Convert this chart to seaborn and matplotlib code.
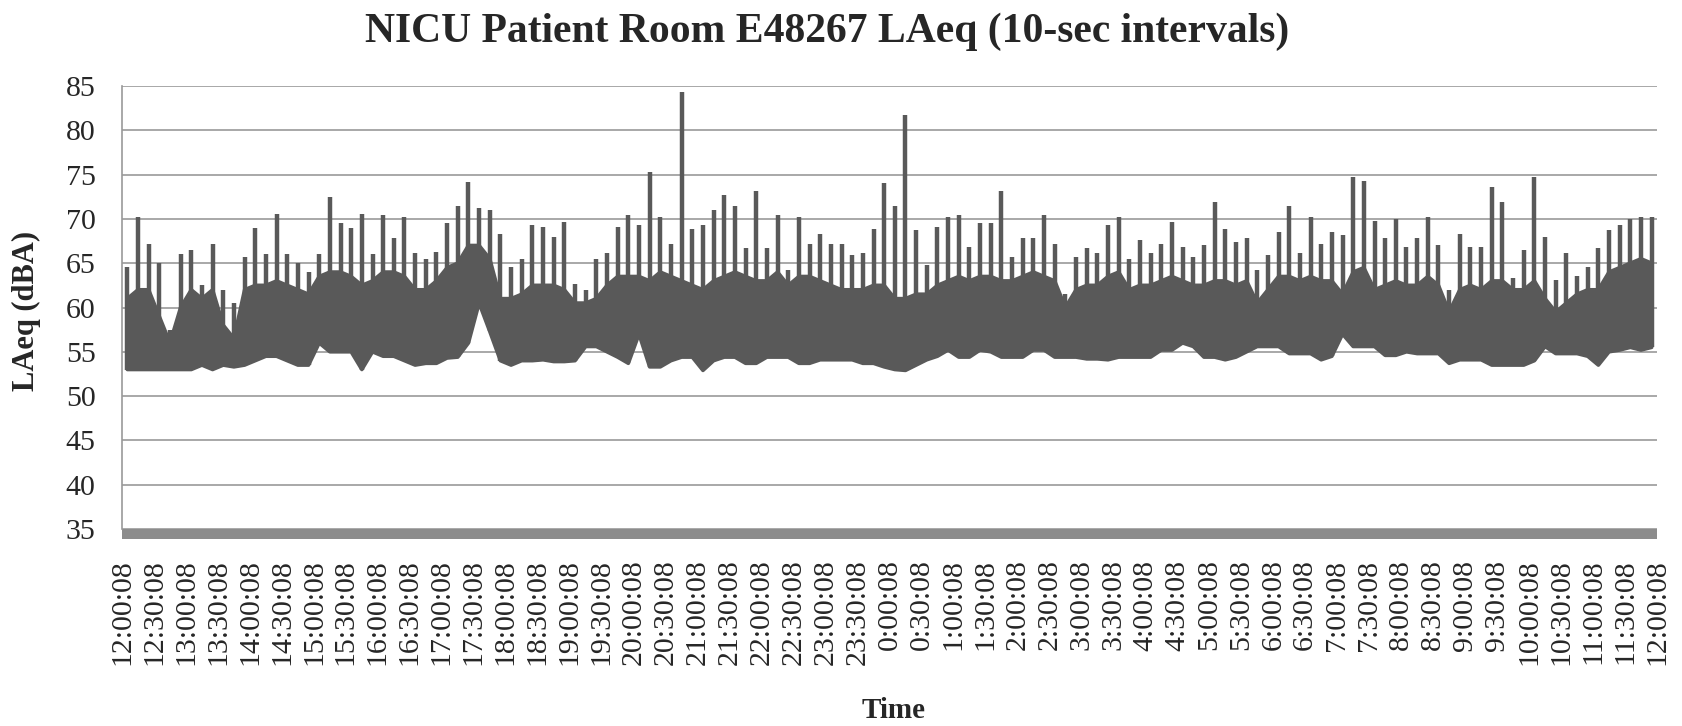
import numpy as np
import pandas as pd
import seaborn as sns
import matplotlib
matplotlib.use("Agg")
import matplotlib.pyplot as plt
from matplotlib.patches import Rectangle

# LAeq, per 10-minute bin (12:00 -> 12:00 next day)
# bin_low: floor of the trace, bin_top: top of the solid band, bin_high: tallest spike
bin_low = [
    53.0, 53.0, 53.0, 53.0, 53.0, 53.0, 53.0, 53.5, 53.0, 53.5, 53.3, 53.5,
    54.0, 54.5, 54.5, 54.0, 53.5, 53.5, 56.0, 55.0, 55.0, 55.0, 53.0, 55.0,
    54.5, 54.5, 54.0, 53.5, 53.7, 53.7, 54.3, 54.4, 56.0, 60.5, 57.3, 54.0,
    53.5, 54.0, 54.0, 54.1, 53.9, 53.9, 54.0, 55.6, 55.6, 55.0, 54.4, 53.7,
    57.0, 53.3, 53.3, 54.0, 54.4, 54.4, 52.9, 54.0, 54.4, 54.4, 53.7, 53.7,
    54.4, 54.4, 54.4, 53.7, 53.7, 54.1, 54.1, 54.1, 54.1, 53.7, 53.7, 53.3,
    53.0, 52.9, 53.5, 54.1, 54.5, 55.2, 54.4, 54.4, 55.2, 55.0, 54.4, 54.4,
    54.4, 55.2, 55.2, 54.4, 54.4, 54.4, 54.2, 54.2, 54.1, 54.4, 54.4, 54.4,
    54.4, 55.2, 55.2, 56.0, 55.6, 54.4, 54.4, 54.1, 54.4, 55.0, 55.6, 55.6,
    55.6, 54.8, 54.8, 54.8, 54.1, 54.5, 57.0, 55.6, 55.6, 55.6, 54.6, 54.6,
    55.0, 54.8, 54.8, 54.8, 53.7, 54.1, 54.1, 54.1, 53.5, 53.5, 53.5, 53.5,
    54.0, 55.6, 54.8, 54.8, 54.8, 54.5, 53.5, 55.0, 55.2, 55.5, 55.2, 55.5,
]
bin_top = [
    61.0, 62.0, 62.0, 59.0, 56.0, 60.0, 62.0, 61.0, 62.0, 58.0, 56.5, 62.0,
    62.5, 62.5, 63.0, 62.5, 62.0, 61.5, 63.5, 64.0, 64.0, 63.5, 62.5, 63.0,
    64.0, 64.0, 63.5, 62.0, 62.0, 63.0, 64.5, 65.0, 67.0, 67.0, 65.5, 61.0,
    61.0, 61.5, 62.5, 62.5, 62.5, 62.0, 60.5, 60.5, 61.0, 62.5, 63.5, 63.5,
    63.5, 63.0, 64.0, 63.5, 63.0, 62.5, 62.0, 63.0, 63.5, 64.0, 63.5, 63.0,
    63.0, 64.0, 62.5, 63.5, 63.5, 63.0, 62.5, 62.0, 62.0, 62.0, 62.5, 62.5,
    61.0, 61.0, 61.5, 61.5, 62.5, 63.0, 63.5, 63.0, 63.5, 63.5, 63.0, 63.0,
    63.5, 64.0, 63.5, 63.0, 60.0, 62.0, 62.5, 62.5, 63.5, 64.0, 62.0, 62.5,
    62.5, 63.0, 63.5, 63.0, 62.5, 62.5, 63.0, 63.0, 62.5, 63.0, 60.5, 62.0,
    63.5, 63.5, 63.0, 63.5, 63.0, 63.0, 61.5, 64.0, 64.5, 62.0, 62.5, 63.0,
    62.5, 62.5, 63.5, 62.5, 59.5, 62.0, 62.5, 62.0, 63.0, 63.0, 62.0, 62.0,
    63.0, 61.0, 59.5, 60.5, 61.5, 62.0, 62.0, 64.0, 64.5, 65.0, 65.5, 65.0,
]
bin_high = [
    64.6, 70.2, 67.2, 65.0, 57.5, 66.0, 66.5, 62.5, 67.2, 62.0, 60.5, 65.7,
    69.0, 66.0, 70.5, 66.0, 65.0, 64.0, 66.0, 72.5, 69.5, 69.0, 70.6, 66.0,
    70.4, 67.8, 70.2, 66.1, 65.5, 66.3, 69.5, 71.5, 74.2, 71.2, 71.0, 68.3,
    64.6, 65.5, 69.3, 69.1, 68.0, 69.7, 62.7, 62.0, 65.5, 66.1, 69.1, 70.4,
    69.3, 75.3, 70.2, 67.2, 84.3, 68.9, 69.3, 71.0, 72.7, 71.4, 66.7, 73.1,
    66.7, 70.4, 64.2, 70.2, 67.2, 68.3, 67.2, 67.2, 65.9, 66.1, 68.9, 74.0,
    71.4, 81.7, 68.7, 64.8, 69.1, 70.2, 70.4, 66.8, 69.5, 69.5, 73.1, 65.7,
    67.8, 67.8, 70.4, 67.2, 61.5, 65.7, 66.7, 66.1, 69.3, 70.2, 65.5, 67.6,
    66.1, 67.2, 69.7, 66.8, 65.7, 67.0, 71.9, 68.9, 67.4, 67.8, 64.2, 65.9,
    68.5, 71.4, 66.1, 70.2, 67.2, 68.5, 68.2, 74.7, 74.3, 69.8, 67.8, 70.0,
    66.8, 67.8, 70.2, 67.0, 62.0, 68.3, 66.8, 66.8, 73.6, 71.9, 63.3, 66.5,
    74.7, 68.0, 63.1, 66.1, 63.5, 64.6, 66.7, 68.7, 69.3, 70.0, 70.2, 70.2,
]

tick_labels = [
    "12:00:08", "12:30:08", "13:00:08", "13:30:08", "14:00:08", "14:30:08",
    "15:00:08", "15:30:08", "16:00:08", "16:30:08", "17:00:08", "17:30:08",
    "18:00:08", "18:30:08", "19:00:08", "19:30:08", "20:00:08", "20:30:08",
    "21:00:08", "21:30:08", "22:00:08", "22:30:08", "23:00:08", "23:30:08",
    "0:00:08", "0:30:08", "1:00:08", "1:30:08", "2:00:08", "2:30:08",
    "3:00:08", "3:30:08", "4:00:08", "4:30:08", "5:00:08", "5:30:08",
    "6:00:08", "6:30:08", "7:00:08", "7:30:08", "8:00:08", "8:30:08",
    "9:00:08", "9:30:08", "10:00:08", "10:30:08", "11:00:08", "11:30:08",
    "12:00:08",
]

TRACE = "#595959"

# hours since 12:00:08, bin centres
hours = (np.arange(len(bin_low)) * 10 + 5) / 60
df = pd.DataFrame({"hours": hours, "low": bin_low, "top": bin_top, "high": bin_high})

sns.set_style("white")
plt.rcParams["font.family"] = ["Liberation Serif", "DejaVu Serif"]

fig, ax = plt.subplots(figsize=(16.82, 7.26), dpi=100)
fig.subplots_adjust(left=122 / 1682, right=1657 / 1682, top=1 - 86 / 726, bottom=1 - 529 / 726)

# solid body of the trace and its outline
ax.fill_between(df["hours"], df["low"], df["top"], color=TRACE, lw=0)
sns.lineplot(data=df, x="hours", y="low", ax=ax, color=TRACE, linewidth=2.6, estimator=None)
sns.lineplot(data=df, x="hours", y="top", ax=ax, color=TRACE, linewidth=2.6, estimator=None)
# spikes
ax.vlines(df["hours"], df["low"], df["high"], color=TRACE, linewidth=3.2)

ax.set_xlim(0, 24)
ax.set_ylim(35, 85)
ax.set_yticks(range(35, 90, 5))
ax.set_xticks(np.arange(len(tick_labels)) * 0.5)
ax.set_xticklabels(tick_labels, rotation=90)
ax.grid(axis="y", color="#999999", linewidth=1.2)
ax.grid(axis="x", visible=False)
ax.set_axisbelow(True)
for side in ["top", "right", "bottom"]:
    ax.spines[side].set_visible(False)
ax.spines["left"].set_color("#999999")
ax.spines["left"].set_linewidth(1.2)
ax.tick_params(axis="y", length=7, width=1.2, color="#999999", pad=12, labelsize=21.5)
ax.tick_params(axis="x", length=0, pad=22, labelsize=21.5)
ax.set_xlabel("")
ax.set_ylabel("")

# grey floor bar under the 35 line
ax.add_patch(Rectangle((0, -0.0237), 1, 0.0237, transform=ax.transAxes,
                       color="#8c8c8c", lw=0, clip_on=False))

fig.text(0.492, 0.956, "NICU Patient Room E48267 LAeq (10-sec intervals)",
         ha="center", va="center", fontsize=30, fontweight="bold")
fig.text(0.016, 0.572, "LAeq (dBA)", rotation=90, ha="center", va="center",
         fontsize=22, fontweight="bold")
fig.text(0.5315, 0.022, "Time", ha="center", va="center", fontsize=21, fontweight="bold")

fig.savefig("out.png", dpi=100)
